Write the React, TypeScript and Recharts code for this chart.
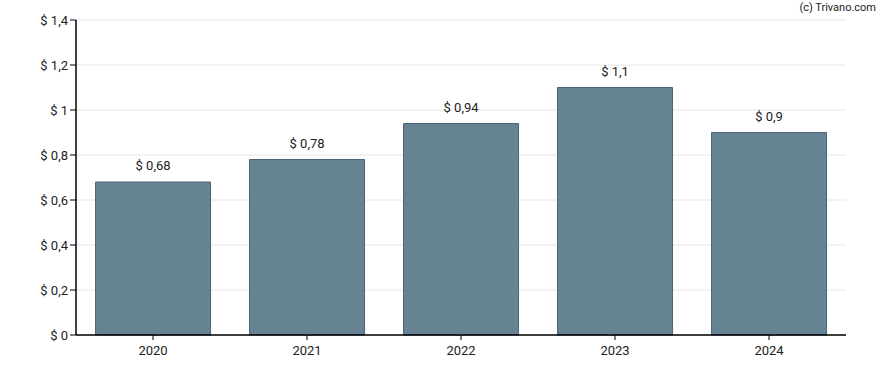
import { BarChart, Bar, XAxis, YAxis, CartesianGrid, LabelList } from 'recharts'

const years = ['2020', '2021', '2022', '2023', '2024']
const dividends = [0.68, 0.78, 0.94, 1.1, 0.9]
const yTicks = [0, 0.2, 0.4, 0.6, 0.8, 1, 1.2, 1.4]

const data = years.map((year, i) => ({ year, value: dividends[i] }))

function formatEuro(v: number) {
  return `$ ${String(v).replace('.', ',')}`
}

export default function App() {
  return (
    <div style={{ position: 'absolute', left: 0, top: 0, width: 888, height: 370, fontFamily: 'Roboto, sans-serif' }}>
      <BarChart
        width={888}
        height={370}
        data={data}
        margin={{ top: 20, right: 42, left: 0, bottom: 5 }}
        barCategoryGap="12.7%"
      >
        <CartesianGrid stroke="#e6e6e6" vertical={false} />
        <XAxis
          dataKey="year"
          tick={{ fontSize: 13, fill: '#222' }}
          axisLine={{ stroke: '#000', strokeWidth: 1.5 }}
          tickLine={{ stroke: '#000' }}
          tickSize={5}
          tickMargin={6}
          height={30}
        />
        <YAxis
          domain={[0, 1.4]}
          ticks={yTicks}
          tickFormatter={formatEuro}
          tick={{ fontSize: 13, fill: '#222' }}
          axisLine={{ stroke: '#000', strokeWidth: 1.5 }}
          tickLine={{ stroke: '#000' }}
          tickSize={6}
          width={76}
          interval={0}
        />
        <Bar dataKey="value" fill="#668394" stroke="#4a6478" strokeWidth={1} isAnimationActive={false}>
          <LabelList
            dataKey="value"
            position="top"
            offset={12}
            formatter={(v: any) => formatEuro(Number(v))}
            style={{ fontSize: 13, fill: '#222' }}
          />
        </Bar>
        <text x={876} y={11} textAnchor="end" fontSize={11} fill="#222">
          (c) Trivano.com
        </text>
      </BarChart>
    </div>
  )
}
